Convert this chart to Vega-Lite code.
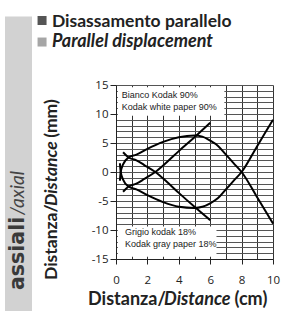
{
  "$schema": "https://vega.github.io/schema/vega-lite/v6.json",
  "width": 157,
  "height": 174,
  "autosize": {"type": "none"},
  "padding": {"left": 116, "top": 85, "right": 18, "bottom": 52},
  "background": "white",
  "view": {"stroke": null},
  "resolve": {"axis": {"x": "independent", "y": "independent"}},
  "datasets": {
    "curves": [
      {"s": "A", "x": 0.45, "y": -3.4}, {"s": "A", "x": 0.8, "y": -2.5}, {"s": "A", "x": 1.3, "y": -2.0}, {"s": "A", "x": 1.8, "y": -1.2}, {"s": "A", "x": 2.5, "y": 0}, {"s": "A", "x": 3.2, "y": 1.6}, {"s": "A", "x": 4, "y": 3.6}, {"s": "A", "x": 5, "y": 6.0}, {"s": "A", "x": 6, "y": 8.5},
      {"s": "A2", "x": 0.45, "y": 3.4}, {"s": "A2", "x": 0.8, "y": 2.5}, {"s": "A2", "x": 1.3, "y": 2.0}, {"s": "A2", "x": 1.8, "y": 1.2}, {"s": "A2", "x": 2.5, "y": 0}, {"s": "A2", "x": 3.2, "y": -1.6}, {"s": "A2", "x": 4, "y": -3.6}, {"s": "A2", "x": 5, "y": -6.0}, {"s": "A2", "x": 6, "y": -8.3},
      {"s": "B", "x": 0.25, "y": -1.5}, {"s": "B", "x": 0.3, "y": 0}, {"s": "B", "x": 0.45, "y": 1.3}, {"s": "B", "x": 0.8, "y": 2.5}, {"s": "B", "x": 1.3, "y": 3.0}, {"s": "B", "x": 2, "y": 4.0}, {"s": "B", "x": 3, "y": 5.2}, {"s": "B", "x": 4, "y": 6.0}, {"s": "B", "x": 5, "y": 6.3}, {"s": "B", "x": 5.5, "y": 6.1}, {"s": "B", "x": 6, "y": 5.4}, {"s": "B", "x": 6.5, "y": 4.5}, {"s": "B", "x": 7, "y": 3.0}, {"s": "B", "x": 7.5, "y": 1.5}, {"s": "B", "x": 8, "y": 0}, {"s": "B", "x": 9, "y": -4.4}, {"s": "B", "x": 10, "y": -8.9},
      {"s": "B2", "x": 0.25, "y": 1.5}, {"s": "B2", "x": 0.3, "y": 0}, {"s": "B2", "x": 0.45, "y": -1.3}, {"s": "B2", "x": 0.8, "y": -2.5}, {"s": "B2", "x": 1.3, "y": -3.0}, {"s": "B2", "x": 2, "y": -4.0}, {"s": "B2", "x": 3, "y": -5.2}, {"s": "B2", "x": 4, "y": -6.0}, {"s": "B2", "x": 5, "y": -6.2}, {"s": "B2", "x": 5.5, "y": -6.0}, {"s": "B2", "x": 6, "y": -5.4}, {"s": "B2", "x": 6.5, "y": -4.5}, {"s": "B2", "x": 7, "y": -3.0}, {"s": "B2", "x": 7.5, "y": -1.5}, {"s": "B2", "x": 8, "y": 0}, {"s": "B2", "x": 9, "y": 4.5}, {"s": "B2", "x": 10, "y": 9.0}
    ]
  },
  "layer": [
    {
      "data": {"values": [{"box": "top"}]},
      "mark": {"type": "rect", "color": "white"},
      "encoding": {"x": {"datum": 0.12, "axis": null}, "x2": {"datum": 6.9}, "y": {"datum": 9.7, "axis": null}, "y2": {"datum": 14.6}}
    },
    {
      "data": {"values": [{"box": "bottom"}]},
      "mark": {"type": "rect", "color": "white"},
      "encoding": {"x": {"datum": 0.12, "axis": null}, "x2": {"datum": 6.4}, "y": {"datum": -9.4, "axis": null}, "y2": {"datum": -14.6}}
    },
    {
      "data": {"name": "curves"},
      "mark": {"type": "line", "color": "black", "strokeWidth": 2, "interpolate": "monotone"},
      "encoding": {
        "x": {"field": "x", "type": "quantitative", "scale": {"domain": [0, 10], "nice": false, "zero": false},
          "axis": {"title": null, "values": [0,1,2,3,4,5,6,7,8,9,10], "labelExpr": "datum.value % 2 == 0 ? '' + datum.value : ''",
            "tickOpacity": {"condition": {"test": "datum.value % 2 == 0", "value": 1}, "value": 0},
            "tickSize": 5, "tickColor": "#222", "domainColor": "#222", "grid": true, "gridColor": "#333", "gridWidth": 1, "gridOpacity": 1,
            "labelFont": "Open Sans", "labelFontSize": 11.5, "labelColor": "#222", "labelPadding": 10, "labelFlush": false, "labelOverlap": false}},
        "y": {"field": "y", "type": "quantitative", "scale": {"domain": [-15, 15], "nice": false, "zero": false},
          "axis": {"title": null, "values": [-15,-14,-13,-12,-11,-10,-9,-8,-7,-6,-5,-4,-3,-2,-1,0,1,2,3,4,5,6,7,8,9,10,11,12,13,14,15],
            "labelExpr": "datum.value % 5 == 0 ? '' + datum.value : ''",
            "tickOpacity": {"condition": {"test": "datum.value % 5 == 0", "value": 1}, "value": 0},
            "tickSize": 6, "tickColor": "#222", "domainColor": "#222", "grid": true, "gridColor": "#555", "gridWidth": 1, "gridOpacity": 1,
            "labelFont": "Open Sans", "labelFontSize": 11.5, "labelColor": "#222", "labelPadding": 2, "labelOverlap": false}},
        "detail": {"field": "s", "type": "nominal"}
      }
    },
    {
      "data": {"values": [{"t": "Bianco Kodak 90%"}]},
      "mark": {"type": "text", "font": "Liberation Sans", "fontSize": 9, "color": "#222", "align": "left", "baseline": "alphabetic"},
      "encoding": {"text": {"field": "t"}, "x": {"datum": 0.36, "axis": null}, "y": {"datum": 12.8, "axis": null}}
    },
    {
      "data": {"values": [{"t": "Kodak white paper 90%"}]},
      "mark": {"type": "text", "font": "Liberation Sans", "fontSize": 9, "color": "#222", "align": "left", "baseline": "alphabetic"},
      "encoding": {"text": {"field": "t"}, "x": {"datum": 0.36, "axis": null}, "y": {"datum": 10.7, "axis": null}}
    },
    {
      "data": {"values": [{"t": "Grigio kodak 18%"}]},
      "mark": {"type": "text", "font": "Liberation Sans", "fontSize": 9, "color": "#222", "align": "left", "baseline": "alphabetic"},
      "encoding": {"text": {"field": "t"}, "x": {"datum": 0.57, "axis": null}, "y": {"datum": -10.86, "axis": null}}
    },
    {
      "data": {"values": [{"t": "Kodak gray paper 18%"}]},
      "mark": {"type": "text", "font": "Liberation Sans", "fontSize": 9, "color": "#222", "align": "left", "baseline": "alphabetic"},
      "encoding": {"text": {"field": "t"}, "x": {"datum": 0.57, "axis": null}, "y": {"datum": -12.93, "axis": null}}
    },
    {
      "data": {"values": [{"bar": "side"}]},
      "mark": {"type": "rect", "color": "#d2d2d2"},
      "encoding": {"x": {"datum": -7.07, "axis": null}, "x2": {"datum": -5.35}, "y": {"datum": 26.8, "axis": null}, "y2": {"datum": -24.5}}
    },
    {
      "data": {"values": [{"t": "assiali"}]},
      "mark": {"type": "text", "font": "DejaVu Sans", "fontSize": 20.5, "fontWeight": "bold", "color": "#3a3a3a", "angle": 270, "align": "left", "baseline": "alphabetic"},
      "encoding": {"text": {"field": "t"}, "x": {"datum": -5.89, "axis": null}, "y": {"datum": -20.34, "axis": null}}
    },
    {
      "data": {"values": [{"t": "/axial"}]},
      "mark": {"type": "text", "font": "Lato", "fontSize": 19, "fontStyle": "italic", "color": "#444", "angle": 270, "align": "left", "baseline": "alphabetic"},
      "encoding": {"text": {"field": "t"}, "x": {"datum": -5.89, "axis": null}, "y": {"datum": -7.41, "axis": null}}
    },
    {
      "data": {"values": [{"t": "Distanza/"}]},
      "mark": {"type": "text", "font": "Lato", "fontSize": 17.5, "fontWeight": "bold", "color": "#222", "angle": 270, "align": "left", "baseline": "alphabetic"},
      "encoding": {"text": {"field": "t"}, "x": {"datum": -3.76, "axis": null}, "y": {"datum": -18.62, "axis": null}}
    },
    {
      "data": {"values": [{"t": "Distance"}]},
      "mark": {"type": "text", "font": "Lato", "fontSize": 17.5, "fontWeight": "bold", "fontStyle": "italic", "color": "#222", "angle": 270, "align": "left", "baseline": "alphabetic"},
      "encoding": {"text": {"field": "t"}, "x": {"datum": -3.76, "axis": null}, "y": {"datum": -5.86, "axis": null}}
    },
    {
      "data": {"values": [{"t": "(mm)"}]},
      "mark": {"type": "text", "font": "Lato", "fontSize": 17.5, "fontWeight": "bold", "color": "#222", "angle": 270, "align": "left", "baseline": "alphabetic"},
      "encoding": {"text": {"field": "t"}, "x": {"datum": -3.76, "axis": null}, "y": {"datum": 5.9, "axis": null}}
    },
    {
      "data": {"values": [{"t": "Distanza/"}]},
      "mark": {"type": "text", "font": "Lato", "fontSize": 18, "fontWeight": "bold", "color": "#222", "align": "left", "baseline": "alphabetic"},
      "encoding": {"text": {"field": "t"}, "x": {"datum": -1.78, "axis": null}, "y": {"datum": -22.93, "axis": null}}
    },
    {
      "data": {"values": [{"t": "Distance"}]},
      "mark": {"type": "text", "font": "Lato", "fontSize": 18, "fontWeight": "bold", "fontStyle": "italic", "color": "#222", "align": "left", "baseline": "alphabetic"},
      "encoding": {"text": {"field": "t"}, "x": {"datum": 3.06, "axis": null}, "y": {"datum": -22.93, "axis": null}}
    },
    {
      "data": {"values": [{"t": "(cm)"}]},
      "mark": {"type": "text", "font": "Lato", "fontSize": 18, "fontWeight": "bold", "color": "#222", "align": "left", "baseline": "alphabetic"},
      "encoding": {"text": {"field": "t"}, "x": {"datum": 7.55, "axis": null}, "y": {"datum": -22.93, "axis": null}}
    },
    {
      "data": {"values": [{"k": "Disassamento parallelo"}]},
      "mark": {"type": "point", "shape": "square", "filled": true, "size": 81, "color": "#555", "opacity": 1},
      "encoding": {"x": {"datum": -4.71, "axis": null}, "y": {"datum": 26.12, "axis": null}}
    },
    {
      "data": {"values": [{"k": "Parallel displacement"}]},
      "mark": {"type": "point", "shape": "square", "filled": true, "size": 81, "color": "#a6a6a6", "opacity": 1},
      "encoding": {"x": {"datum": -4.71, "axis": null}, "y": {"datum": 22.41, "axis": null}}
    },
    {
      "data": {"values": [{"t": "Disassamento parallelo"}]},
      "mark": {"type": "text", "font": "Lato", "fontSize": 17.5, "fontWeight": "bold", "color": "#222", "align": "left", "baseline": "alphabetic"},
      "encoding": {"text": {"field": "t"}, "x": {"datum": -4.08, "axis": null}, "y": {"datum": 25.0, "axis": null}}
    },
    {
      "data": {"values": [{"t": "Parallel displacement"}]},
      "mark": {"type": "text", "font": "Lato", "fontSize": 18, "fontWeight": "bold", "fontStyle": "italic", "color": "#222", "align": "left", "baseline": "alphabetic"},
      "encoding": {"text": {"field": "t"}, "x": {"datum": -4.08, "axis": null}, "y": {"datum": 21.55, "axis": null}}
    }
  ]
}
